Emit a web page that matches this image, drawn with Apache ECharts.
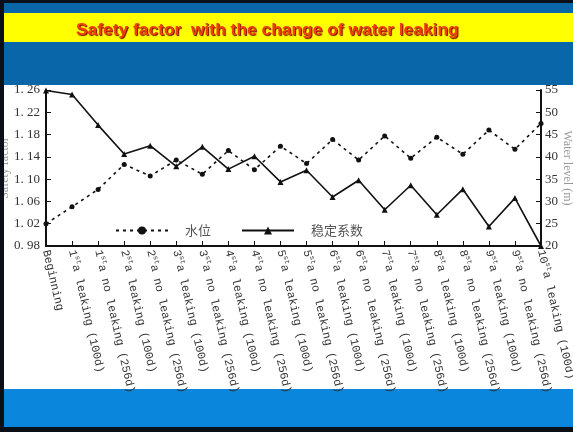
<!DOCTYPE html>
<html>
<head>
<meta charset="utf-8">
<script src="https://cdn.jsdelivr.net/npm/echarts@6/dist/echarts.min.js"></script>
<style>
html,body{margin:0;padding:0;background:#fff;}
#c{width:573px;height:432px;}
</style>
</head>
<body>
<div id="c"></div>
<script>
// ---- data ----
var categories = [
  'Beginning',
  '1|st|a leaking (100d)', '1|st|a no leaking (256d)',
  '2|st|a leaking (100d)', '2|st|a no leaking (256d)',
  '3|st|a leaking (100d)', '3|st|a no leaking (256d)',
  '4|st|a leaking (100d)', '4|st|a no leaking (256d)',
  '5|st|a leaking (100d)', '5|st|a no leaking (256d)',
  '6|st|a leaking (100d)', '6|st|a no leaking (256d)',
  '7|st|a leaking (100d)', '7|st|a no leaking (256d)',
  '8|st|a leaking (100d)', '8|st|a no leaking (256d)',
  '9|st|a leaking (100d)', '9|st|a no leaking (256d)',
  '10|st|a leaking (100d)'
];
var waterLevel = [25.0, 28.8, 32.7, 38.3, 35.7, 39.3, 36.1, 41.4, 37.1, 42.4, 38.5, 43.9, 39.3, 44.7, 39.7, 44.4, 40.6, 46.0, 41.7, 47.5];
var safetyFactor = [1.259, 1.252, 1.197, 1.145, 1.160, 1.123, 1.158, 1.118, 1.141, 1.095, 1.116, 1.068, 1.098, 1.045, 1.089, 1.036, 1.082, 1.015, 1.066, 0.980];
var leftTicks = {min: 0.98, max: 1.26, step: 0.04};
var rightTicks = {min: 20, max: 55, step: 5};
var titleText = 'Safety factor  with the change of water leaking';
var seriesNames = ['水位', '稳定系数'];

var chart = echarts.init(document.getElementById('c'), null, {renderer: 'canvas'});
var serif = '"Liberation Serif", "DejaVu Serif", serif';
var mono = '"Liberation Mono", "DejaVu Sans Mono", monospace';

function catLabel(v) {
  var p = v.split('|');
  if (p.length === 1) return '{t|' + v + '}';
  return '{t|' + p[0] + '}{s|' + p[1] + '}{t|' + p[2] + '}';
}

var option = {
  backgroundColor: '#ffffff',
  animation: false,
  title: {
    text: titleText,
    left: 71,
    top: 17,
    textStyle: {
      color: '#f53d08',
      fontSize: 17.4,
      fontWeight: 'bold',
      fontFamily: '"Liberation Sans", Arial, sans-serif',
      textShadowColor: '#6a1200',
      textShadowOffsetX: 1,
      textShadowOffsetY: 1,
      textShadowBlur: 1
    }
  },
  graphic: [
    {type: 'rect', shape: {x: 0, y: 0, width: 573, height: 85}, style: {fill: '#0866a9'}, z: 0, silent: true},
    {type: 'rect', shape: {x: 0, y: 13, width: 573, height: 29}, style: {fill: '#ffff00'}, z: 0, silent: true},
    {type: 'rect', shape: {x: 0, y: 389, width: 573, height: 43}, style: {fill: '#0a86dd'}, z: 0, silent: true},
    {type: 'rect', shape: {x: 0, y: 0, width: 573, height: 3}, style: {fill: '#0a0f18'}, z: 100, silent: true},
    {type: 'rect', shape: {x: 0, y: 427, width: 573, height: 5}, style: {fill: '#0a0f18'}, z: 100, silent: true},
    {type: 'rect', shape: {x: 0, y: 0, width: 4, height: 432}, style: {fill: '#0a0f18'}, z: 100, silent: true}
  ],
  legend: {
    left: 110,
    top: 219,
    itemWidth: 52,
    itemHeight: 10,
    itemGap: 30,
    textStyle: {
      color: '#555',
      fontSize: 13,
      fontFamily: '"Noto Sans CJK SC", sans-serif',
      padding: [0, 0, 0, 12]
    },
    data: seriesNames
  },
  grid: {left: 46, right: 32, top: 90, bottom: 186, outerBoundsMode: 'none', containLabel: false},
  xAxis: {
    type: 'category',
    boundaryGap: false,
    data: categories,
    axisLine: {lineStyle: {color: '#111', width: 2}},
    axisTick: {inside: true, length: 5, lineStyle: {color: '#111', width: 1}, alignWithLabel: true},
    axisLabel: {
      interval: 0,
      rotate: -77,
      margin: 4,
      color: '#333',
      hideOverlap: false,
      formatter: catLabel,
      rich: {
        t: {fontFamily: mono, fontSize: 11.5, color: '#333'},
        s: {fontFamily: mono, fontSize: 7, color: '#333', verticalAlign: 'top', lineHeight: 14}
      }
    }
  },
  yAxis: [
    {
      type: 'value',
      min: leftTicks.min,
      max: leftTicks.max,
      interval: leftTicks.step,
      name: 'Safety factor',
      nameLocation: 'middle',
      nameRotate: 90,
      nameGap: 35,
      nameMoveOverlap: false,
      nameTextStyle: {color: '#999', fontFamily: serif, fontSize: 12},
      axisLine: {show: true, lineStyle: {color: '#111', width: 2}},
      axisTick: {show: true, inside: true, length: 5, lineStyle: {color: '#111'}},
      splitLine: {show: false},
      axisLabel: {
        color: '#333',
        fontFamily: serif,
        fontSize: 13,
        margin: 6,
        formatter: function (v) { return v.toFixed(2).replace('.', '. '); }
      }
    },
    {
      type: 'value',
      min: rightTicks.min,
      max: rightTicks.max,
      interval: rightTicks.step,
      position: 'right',
      name: 'Water level (m)',
      nameLocation: 'middle',
      nameRotate: -90,
      nameGap: 20,
      nameMoveOverlap: false,
      nameTextStyle: {color: '#999', fontFamily: serif, fontSize: 12},
      axisLine: {show: true, lineStyle: {color: '#111', width: 2}},
      axisTick: {show: true, inside: true, length: 5, lineStyle: {color: '#111'}},
      splitLine: {show: false},
      axisLabel: {color: '#333', fontFamily: serif, fontSize: 13, margin: 4}
    }
  ],
  series: [
    {
      name: seriesNames[0],
      type: 'line',
      yAxisIndex: 1,
      data: waterLevel,
      symbol: 'circle',
      symbolSize: 5,
      showAllSymbol: true,
      lineStyle: {color: '#111', width: 1.6, type: [3, 4]},
      itemStyle: {color: '#111'}
    },
    {
      name: seriesNames[1],
      type: 'line',
      yAxisIndex: 0,
      data: safetyFactor,
      symbol: 'triangle',
      symbolSize: 6,
      showAllSymbol: true,
      lineStyle: {color: '#111', width: 1.6},
      itemStyle: {color: '#111'}
    }
  ]
};
chart.setOption(option);
</script>
</body>
</html>
